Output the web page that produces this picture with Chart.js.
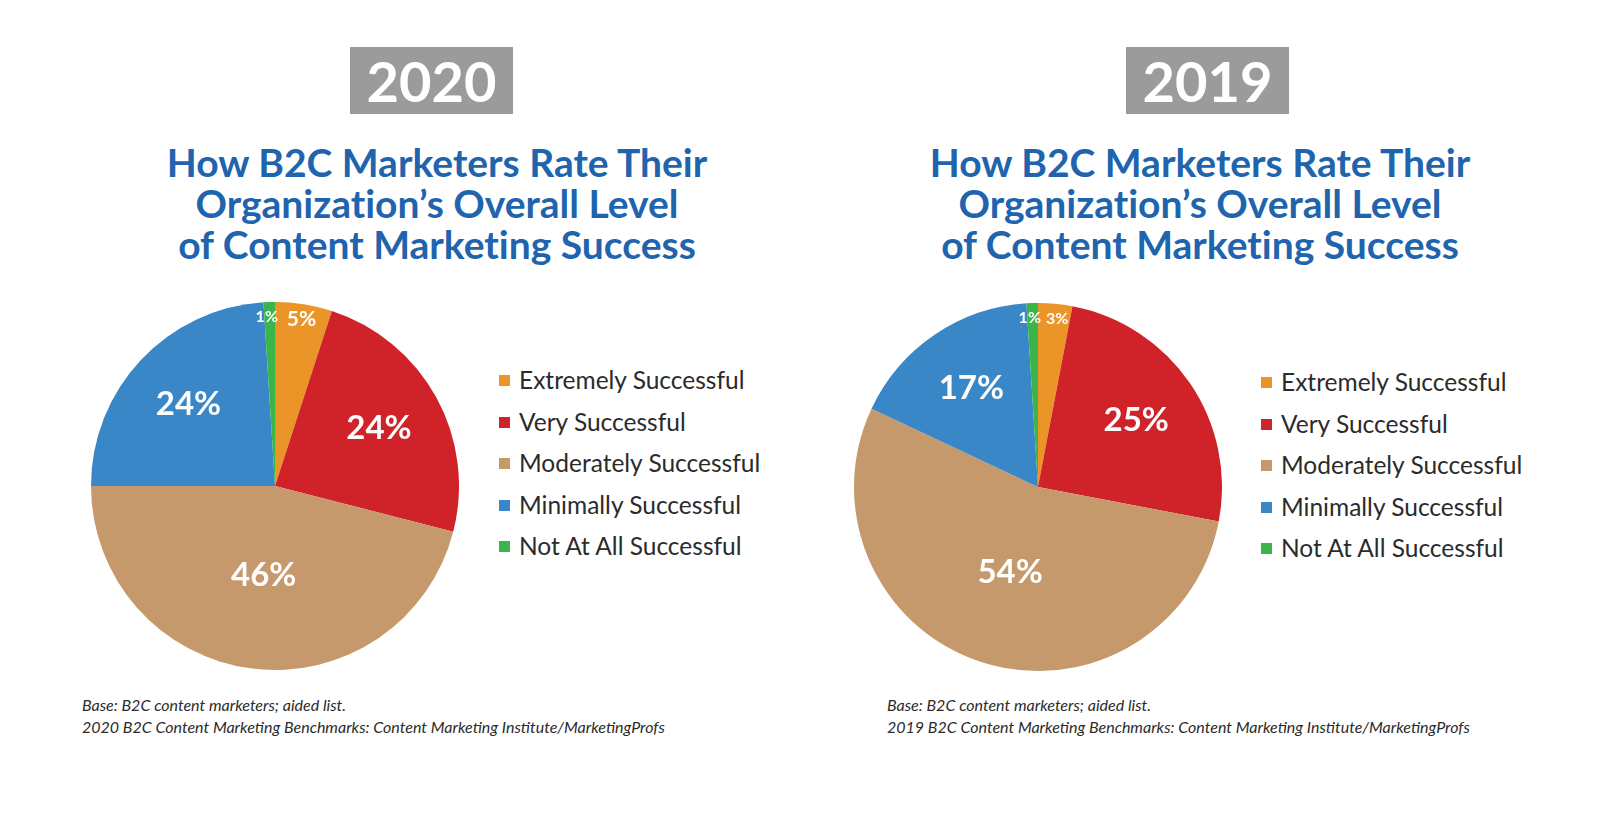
<!DOCTYPE html>
<html>
<head>
<meta charset="utf-8">
<script src="https://cdn.jsdelivr.net/npm/chart.js@4"></script>
<style>
  html, body { margin: 0; padding: 0; background: #ffffff; }
  body { width: 1600px; height: 818px; position: relative; overflow: hidden; font-family: Lato, "Noto Sans", sans-serif; font-variant-ligatures: none; }
  .yearbox { position: absolute; top: 47px; width: 163px; height: 67px; background: #9b9b9b; color: #fff;
    font: 700 56px Lato, sans-serif; line-height: 67px; text-align: center; }
  .title { position: absolute; top: 142px; width: 800px; text-align: center; color: #2064ae;
    font: 700 39px Lato, sans-serif; line-height: 41px; font-variant-ligatures: none; }
  .pie { position: absolute; }
  .legend { position: absolute; }
  .legend .row { position: absolute; left: 0; height: 30px; white-space: nowrap; }
  .legend .sw { position: absolute; left: 0; top: 10px; width: 11px; height: 11px; }
  .legend .tx { position: absolute; left: 20px; top: 0; font: 400 24.5px Lato, sans-serif; line-height: 30px; color: #2b2b2b; }
  .note { position: absolute; font: italic 400 16px Lato, sans-serif; color: #2b2b2b; line-height: 22px; white-space: nowrap; }
</style>
</head>
<body>
<script>
// ---- data ----
const categories = ['Extremely Successful', 'Very Successful', 'Moderately Successful', 'Minimally Successful', 'Not At All Successful'];
const years = ['2020', '2019'];
const values2020 = [5, 24, 46, 24, 1];
const values2019 = [3, 25, 54, 17, 1];
const titleLines = ['How B2C Marketers Rate Their', 'Organization\u2019s Overall Level', 'of Content Marketing Success'];
const baseNote = 'Base: B2C content marketers; aided list.';
const sourceNotes = ['2020 B2C Content Marketing Benchmarks: Content Marketing Institute/MarketingProfs',
                     '2019 B2C Content Marketing Benchmarks: Content Marketing Institute/MarketingProfs'];

// ---- style ----
const sliceColors = ['#eb9428', '#cf2229', '#c5996b', '#3a87c8', '#3ab54a'];
const panels = [
  { values: values2020, cx: 275, cy: 486, titleCx: 437, yearX: 350, legendX: 499, legendY: 380, noteX: 82 },
  { values: values2019, cx: 1038, cy: 487, titleCx: 1200, yearX: 1126, legendX: 1261, legendY: 382, noteX: 887 }
];
const R = 184;

const labelPlugin = {
  id: 'sliceLabels',
  afterDatasetsDraw(chart) {
    const ctx = chart.ctx;
    const meta = chart.getDatasetMeta(0);
    const data = chart.data.datasets[0].data;
    const n = data.length;
    meta.data.forEach((arc, i) => {
      const v = data[i];
      const p = arc.getProps(['x', 'y', 'startAngle', 'endAngle', 'outerRadius'], true);
      const mid = (p.startAngle + p.endAngle) / 2;
      let f, size;
      if (v <= 5) { f = 0.92; size = v >= 5 ? 21 : 16; }
      else if (v >= 40) { f = 0.49; size = 33; }
      else { f = 0.645; size = 33; }
      const r = p.outerRadius * f;
      let x = p.x + Math.cos(mid) * r;
      const y = p.y + Math.sin(mid) * r;
      ctx.save();
      ctx.fillStyle = '#ffffff';
      ctx.font = '700 ' + size + 'px Lato, sans-serif';
      ctx.textBaseline = 'middle';
      const w = ctx.measureText(v + '%').width;
      let align = 'center';
      if (v <= 5 && i === 0 && x - w / 2 < p.x + 8) { align = 'left'; x = p.x + 8; }
      if (v <= 5 && i === n - 1 && x + w / 2 > p.x + 3) { align = 'right'; x = p.x + 3; }
      ctx.textAlign = align;
      ctx.fillText(v + '%', x, y);
      ctx.restore();
    });
  }
};

panels.forEach((pn, k) => {
  const yb = document.createElement('div');
  yb.className = 'yearbox';
  yb.style.left = pn.yearX + 'px';
  yb.textContent = years[k];
  document.body.appendChild(yb);

  const t = document.createElement('div');
  t.className = 'title';
  t.style.left = (pn.titleCx - 400) + 'px';
  t.innerHTML = titleLines.join('<br>');
  document.body.appendChild(t);

  const c = document.createElement('canvas');
  c.className = 'pie';
  c.width = 2 * R; c.height = 2 * R;
  c.style.width = 2 * R + 'px'; c.style.height = 2 * R + 'px';
  c.style.left = (pn.cx - R) + 'px';
  c.style.top = (pn.cy - R) + 'px';
  document.body.appendChild(c);

  new Chart(c, {
    type: 'pie',
    data: {
      labels: categories,
      datasets: [{ data: pn.values, backgroundColor: sliceColors, borderWidth: 0 }]
    },
    options: {
      responsive: false,
      animation: false,
      devicePixelRatio: 1,
      layout: { padding: 0 },
      plugins: { legend: { display: false }, tooltip: { enabled: false } }
    },
    plugins: [labelPlugin]
  });

  const lg = document.createElement('div');
  lg.className = 'legend';
  lg.style.left = pn.legendX + 'px';
  lg.style.top = '0px';
  categories.forEach((name, i) => {
    const row = document.createElement('div');
    row.className = 'row';
    row.style.top = (pn.legendY + i * 41.6 - 15) + 'px';
    const sw = document.createElement('div');
    sw.className = 'sw';
    sw.style.background = sliceColors[i];
    const tx = document.createElement('div');
    tx.className = 'tx';
    tx.textContent = name;
    row.appendChild(sw); row.appendChild(tx);
    lg.appendChild(row);
  });
  document.body.appendChild(lg);

  const nt = document.createElement('div');
  nt.className = 'note';
  nt.style.left = pn.noteX + 'px';
  nt.style.top = '694px';
  nt.innerHTML = baseNote + '<br>' + sourceNotes[k];
  document.body.appendChild(nt);
});
</script>
</body>
</html>
